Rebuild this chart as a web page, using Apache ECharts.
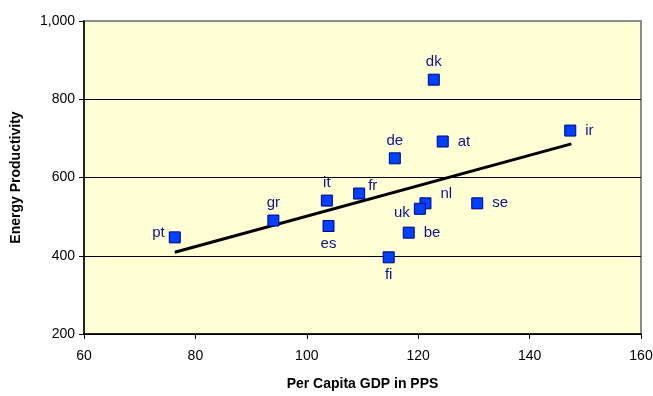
<!DOCTYPE html>
<html><head><meta charset="utf-8">
<script src="https://cdn.jsdelivr.net/npm/echarts@6/dist/echarts.min.js"></script>
<style>html,body{margin:0;padding:0;background:#fff}#c{width:653px;height:396px}</style>
</head><body><div id="c"></div>
<script>
const countries = ['pt','gr','it','es','fr','de','dk','at','ir','nl','uk','se','be','fi'];
const gdp       = [76.3, 94.0, 103.6, 103.9, 109.4, 115.8, 122.8, 124.4, 147.3, 121.3, 120.3, 130.6, 118.3, 114.7];
const prod      = [447, 490, 541, 476, 559, 649, 850, 692, 720, 534, 520, 534, 459, 396];
const labelPos  = ['left','top','top','bottom','right','top','top','right','right','right','left','right','right','bottom'];
const trendX = [76.3, 147.5];
const trendY = [409, 686];
const xTicks = [60, 80, 100, 120, 140, 160];
const yTicks = [200, 400, 600, 800, 1000];

const font = 'Liberation Sans, Arial, sans-serif';
const labelOffsets = {fr:[-6,-8], nl:[0,-9], pt:[0,-5], uk:[0,4]};
const points = countries.map((c,i)=>({
  value:[gdp[i], prod[i]], name:c,
  label:{show:true, position:labelPos[i], distance: labelPos[i]==='right' ? 9 : 4,
    formatter:c, offset: labelOffsets[c]||[0,0]}
}));

const chart = echarts.init(document.getElementById('c'));
chart.setOption({
  animation:false,
  backgroundColor:'#fff',
  grid:{left:84, right:12, top:21, bottom:62, containLabel:false, outerBoundsMode:'none',
    show:true, backgroundColor:'#ffffd5', borderColor:'#8c8c8c', borderWidth:2},
  xAxis:{type:'value', min:xTicks[0], max:xTicks[xTicks.length-1], interval:20,
    name:'Per Capita GDP in PPS', nameLocation:'middle', nameGap:43,
    nameTextStyle:{fontFamily:font, fontWeight:'bold', fontSize:14, color:'#000'},
    axisLine:{show:true, lineStyle:{color:'#000', width:1.5}},
    axisTick:{show:true, length:5, lineStyle:{color:'#000'}},
    axisLabel:{fontFamily:font, fontSize:14, color:'#000', margin:15},
    splitLine:{show:false}},
  yAxis:{type:'value', min:yTicks[0], max:yTicks[yTicks.length-1], interval:200,
    name:'Energy Productivity', nameLocation:'middle', nameGap:61, nameRotate:90,
    nameTextStyle:{fontFamily:font, fontWeight:'bold', fontSize:14, color:'#000'},
    axisLine:{show:true, lineStyle:{color:'#000', width:1.5}},
    axisTick:{show:true, length:5, lineStyle:{color:'#000'}},
    axisLabel:{fontFamily:font, fontSize:14, color:'#000', margin:9,
      formatter:v=>v.toLocaleString('en-US')},
    splitLine:{show:true, lineStyle:{color:['#000','#000','#000','#000','rgba(0,0,0,0)'], width:1.2}}},
  series:[
    {type:'line', data:trendX.map((x,i)=>[x,trendY[i]]), symbol:'none',
     lineStyle:{color:'#000', width:3}, z:2},
    {type:'scatter', data:points, symbol:'rect', symbolSize:11,
     itemStyle:{color:'#0040ff', borderColor:'#000080', borderWidth:1, opacity:1},
     label:{fontFamily:font, fontSize:15, color:'#10108c'}, z:3}
  ]
});
</script></body></html>
